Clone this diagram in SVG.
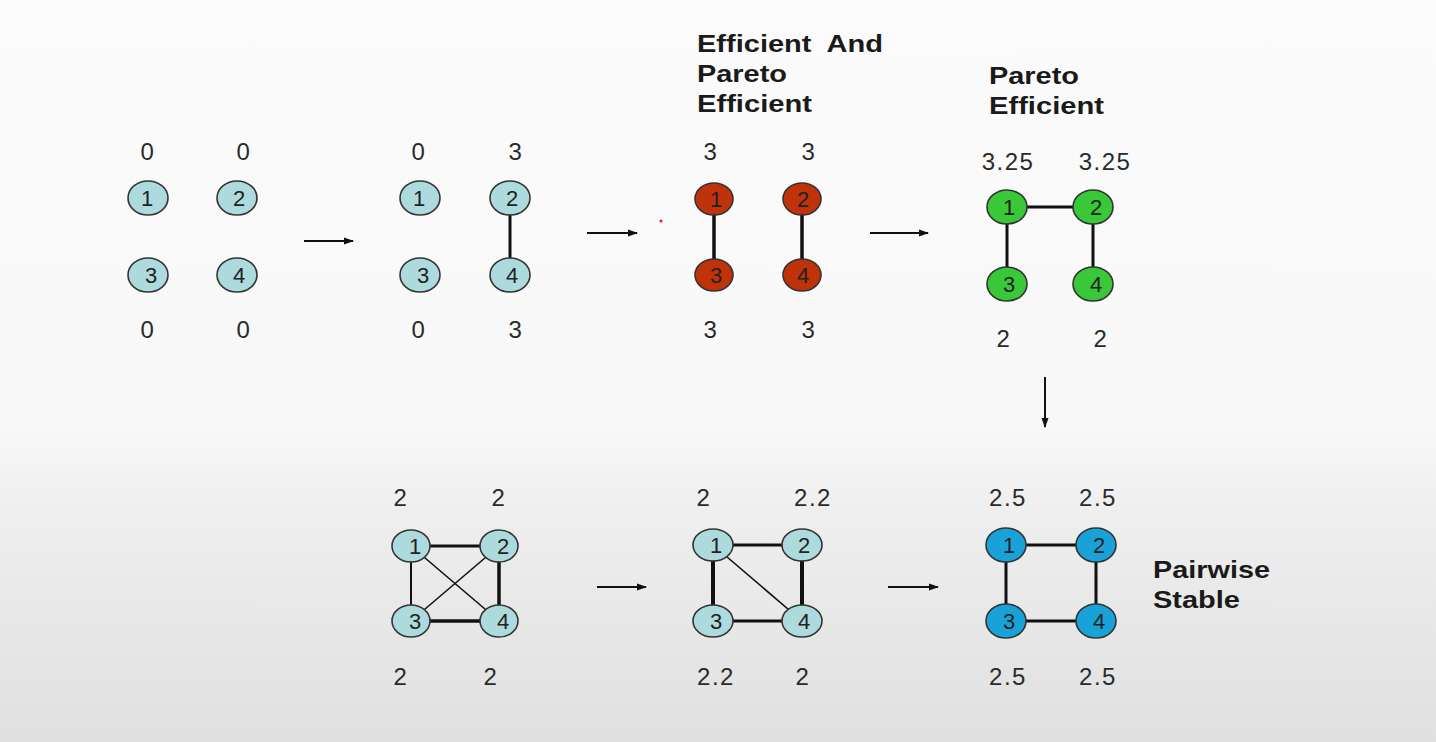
<svg xmlns="http://www.w3.org/2000/svg" width="1436" height="742" viewBox="0 0 1436 742">
<defs>
<linearGradient id="bg" x1="0" y1="0" x2="0" y2="1">
<stop offset="0" stop-color="#fbfbfb"/>
<stop offset="0.58" stop-color="#f8f8f8"/>
<stop offset="0.68" stop-color="#efefef"/>
<stop offset="1" stop-color="#e0e0e0"/>
</linearGradient>
<marker id="ah" viewBox="0 0 10 10" refX="9" refY="5" markerWidth="10" markerHeight="10" markerUnits="userSpaceOnUse" orient="auto">
<path d="M0,1.5 L10,5 L0,8.5 Z" fill="#111"/>
</marker>
<style>
.n ellipse{stroke:#333;stroke-width:1.6}
.c{fill:#addadd}.r{fill:#bf320a}.g{fill:#38c838}.b{fill:#18a2d8}
.n text{font-family:"Liberation Sans",Arial,sans-serif;font-size:22px;fill:#222;text-anchor:middle}
.v{font-family:"Liberation Sans",Arial,sans-serif;font-size:24px;fill:#2a2a2a;text-anchor:middle;letter-spacing:1.5px}
.t{font-family:"Liberation Sans",Arial,sans-serif;font-size:24px;font-weight:bold;fill:#1a1a1a}
.e{stroke:#111;fill:none}
.a{stroke:#111;stroke-width:2;fill:none;marker-end:url(#ah)}
</style>
</defs>
<rect width="1436" height="742" fill="url(#bg)"/>
<circle cx="661" cy="221" r="1.5" fill="#e02020"/>

<g id="connectors">
<line class="a" x1="304" y1="241" x2="353" y2="241"/>
<line class="a" x1="587" y1="233" x2="637" y2="233"/>
<line class="a" x1="870" y1="233" x2="928" y2="233"/>
<line class="a" x1="1045" y1="377" x2="1045" y2="427"/>
<line class="a" x1="597" y1="587" x2="646" y2="587"/>
<line class="a" x1="888" y1="587" x2="938" y2="587"/>
<line class="e" stroke-width="3" x1="510" y1="199" x2="510" y2="275"/>
<line class="e" stroke-width="3.5" x1="714" y1="199" x2="714" y2="275"/>
<line class="e" stroke-width="3.5" x1="802" y1="199" x2="802" y2="275"/>
<line class="e" stroke-width="3" x1="1007" y1="207" x2="1093" y2="207"/>
<line class="e" stroke-width="3" x1="1007" y1="207" x2="1007" y2="284"/>
<line class="e" stroke-width="3" x1="1093" y1="207" x2="1093" y2="284"/>
<line class="e" stroke-width="3" x1="411" y1="546" x2="499" y2="546"/>
<line class="e" stroke-width="2" x1="411" y1="546" x2="411" y2="621"/>
<line class="e" stroke-width="3.5" x1="499" y1="546" x2="499" y2="621"/>
<line class="e" stroke-width="3.5" x1="411" y1="621" x2="499" y2="621"/>
<line class="e" stroke-width="1.6" x1="411" y1="546" x2="499" y2="621"/>
<line class="e" stroke-width="1.6" x1="499" y1="546" x2="411" y2="621"/>
<line class="e" stroke-width="3" x1="713" y1="545" x2="802" y2="545"/>
<line class="e" stroke-width="4" x1="713" y1="545" x2="713" y2="621"/>
<line class="e" stroke-width="4" x1="802" y1="545" x2="802" y2="621"/>
<line class="e" stroke-width="3" x1="713" y1="621" x2="802" y2="621"/>
<line class="e" stroke-width="1.6" x1="713" y1="545" x2="802" y2="621"/>
<line class="e" stroke-width="3" x1="1006" y1="545" x2="1096" y2="545"/>
<line class="e" stroke-width="3" x1="1006" y1="545" x2="1006" y2="621"/>
<line class="e" stroke-width="3" x1="1096" y1="545" x2="1096" y2="621"/>
<line class="e" stroke-width="3" x1="1006" y1="621" x2="1096" y2="621"/>
</g>

<g id="panel1">
<text class="v" x="148" y="160">0</text><text class="v" x="244" y="160">0</text>
<text class="v" x="148" y="338">0</text><text class="v" x="244" y="338">0</text>
<g id="p1n1" class="n"><ellipse class="c" cx="148" cy="198" rx="20" ry="17"/><text x="147" y="206">1</text></g>
<g id="p1n2" class="n"><ellipse class="c" cx="237" cy="198" rx="20" ry="17"/><text x="239" y="206">2</text></g>
<g id="p1n3" class="n"><ellipse class="c" cx="148" cy="275" rx="20" ry="17"/><text x="151" y="283">3</text></g>
<g id="p1n4" class="n"><ellipse class="c" cx="237" cy="275" rx="20" ry="17"/><text x="239" y="283">4</text></g>
</g>

<g id="panel2">
<text class="v" x="419" y="160">0</text><text class="v" x="516" y="160">3</text>
<text class="v" x="419" y="338">0</text><text class="v" x="516" y="338">3</text>
<g id="p2n1" class="n"><ellipse class="c" cx="420" cy="198" rx="20" ry="17"/><text x="419" y="206">1</text></g>
<g id="p2n2" class="n"><ellipse class="c" cx="510" cy="198" rx="20" ry="17"/><text x="512" y="206">2</text></g>
<g id="p2n3" class="n"><ellipse class="c" cx="420" cy="275" rx="20" ry="17"/><text x="423" y="283">3</text></g>
<g id="p2n4" class="n"><ellipse class="c" cx="510" cy="275" rx="20" ry="17"/><text x="512" y="283">4</text></g>
</g>

<g id="panel3">
<text class="t" x="697" y="52" textLength="186" lengthAdjust="spacingAndGlyphs" xml:space="preserve">Efficient  And</text>
<text class="t" x="697" y="82" textLength="90" lengthAdjust="spacingAndGlyphs">Pareto</text>
<text class="t" x="697" y="112" textLength="115" lengthAdjust="spacingAndGlyphs">Efficient</text>
<text class="v" x="711" y="160">3</text><text class="v" x="809" y="160">3</text>
<text class="v" x="711" y="338">3</text><text class="v" x="809" y="338">3</text>
<g id="p3n1" class="n"><ellipse class="r" cx="714" cy="199" rx="19" ry="16"/><text x="716" y="207">1</text></g>
<g id="p3n2" class="n"><ellipse class="r" cx="802" cy="199" rx="19" ry="16"/><text x="803" y="207">2</text></g>
<g id="p3n3" class="n"><ellipse class="r" cx="714" cy="275" rx="19" ry="16"/><text x="716" y="283">3</text></g>
<g id="p3n4" class="n"><ellipse class="r" cx="802" cy="275" rx="19" ry="16"/><text x="803" y="283">4</text></g>
</g>

<g id="panel4">
<text class="t" x="989" y="84" textLength="90" lengthAdjust="spacingAndGlyphs">Pareto</text>
<text class="t" x="989" y="114" textLength="115" lengthAdjust="spacingAndGlyphs">Efficient</text>
<text class="v" x="1008" y="170">3.25</text><text class="v" x="1105" y="170">3.25</text>
<text class="v" x="1004" y="347">2</text><text class="v" x="1101" y="347">2</text>
<g id="p4n1" class="n"><ellipse class="g" cx="1007" cy="207" rx="20" ry="17"/><text x="1009" y="215">1</text></g>
<g id="p4n2" class="n"><ellipse class="g" cx="1093" cy="207" rx="20" ry="17"/><text x="1096" y="215">2</text></g>
<g id="p4n3" class="n"><ellipse class="g" cx="1007" cy="284" rx="20" ry="17"/><text x="1009" y="292">3</text></g>
<g id="p4n4" class="n"><ellipse class="g" cx="1093" cy="284" rx="20" ry="17"/><text x="1096" y="292">4</text></g>
</g>

<g id="panel5">
<text class="v" x="401" y="506">2</text><text class="v" x="499" y="506">2</text>
<text class="v" x="401" y="685">2</text><text class="v" x="491" y="685">2</text>
<g id="p5n1" class="n"><ellipse class="c" cx="411" cy="546" rx="19" ry="16"/><text x="415" y="554">1</text></g>
<g id="p5n2" class="n"><ellipse class="c" cx="499" cy="546" rx="19" ry="16"/><text x="503" y="554">2</text></g>
<g id="p5n3" class="n"><ellipse class="c" cx="411" cy="621" rx="19" ry="16"/><text x="415" y="629">3</text></g>
<g id="p5n4" class="n"><ellipse class="c" cx="499" cy="621" rx="19" ry="16"/><text x="503" y="629">4</text></g>
</g>

<g id="panel6">
<text class="v" x="704" y="506">2</text><text class="v" x="813" y="506">2.2</text>
<text class="v" x="716" y="685">2.2</text><text class="v" x="803" y="685">2</text>
<g id="p6n1" class="n"><ellipse class="c" cx="713" cy="545" rx="20" ry="16"/><text x="716" y="553">1</text></g>
<g id="p6n2" class="n"><ellipse class="c" cx="802" cy="545" rx="20" ry="16"/><text x="804" y="553">2</text></g>
<g id="p6n3" class="n"><ellipse class="c" cx="713" cy="621" rx="20" ry="16"/><text x="716" y="629">3</text></g>
<g id="p6n4" class="n"><ellipse class="c" cx="802" cy="621" rx="20" ry="16"/><text x="804" y="629">4</text></g>
</g>

<g id="panel7">
<text class="v" x="1008" y="506">2.5</text><text class="v" x="1098" y="506">2.5</text>
<text class="v" x="1008" y="685">2.5</text><text class="v" x="1098" y="685">2.5</text>
<text class="t" x="1153" y="578" textLength="117" lengthAdjust="spacingAndGlyphs">Pairwise</text>
<text class="t" x="1153" y="608" textLength="87" lengthAdjust="spacingAndGlyphs">Stable</text>
<g id="p7n1" class="n"><ellipse class="b" cx="1006" cy="545" rx="20" ry="17"/><text x="1009" y="553">1</text></g>
<g id="p7n2" class="n"><ellipse class="b" cx="1096" cy="545" rx="20" ry="17"/><text x="1099" y="553">2</text></g>
<g id="p7n3" class="n"><ellipse class="b" cx="1006" cy="621" rx="20" ry="17"/><text x="1009" y="629">3</text></g>
<g id="p7n4" class="n"><ellipse class="b" cx="1096" cy="621" rx="20" ry="17"/><text x="1099" y="629">4</text></g>
</g>
</svg>
